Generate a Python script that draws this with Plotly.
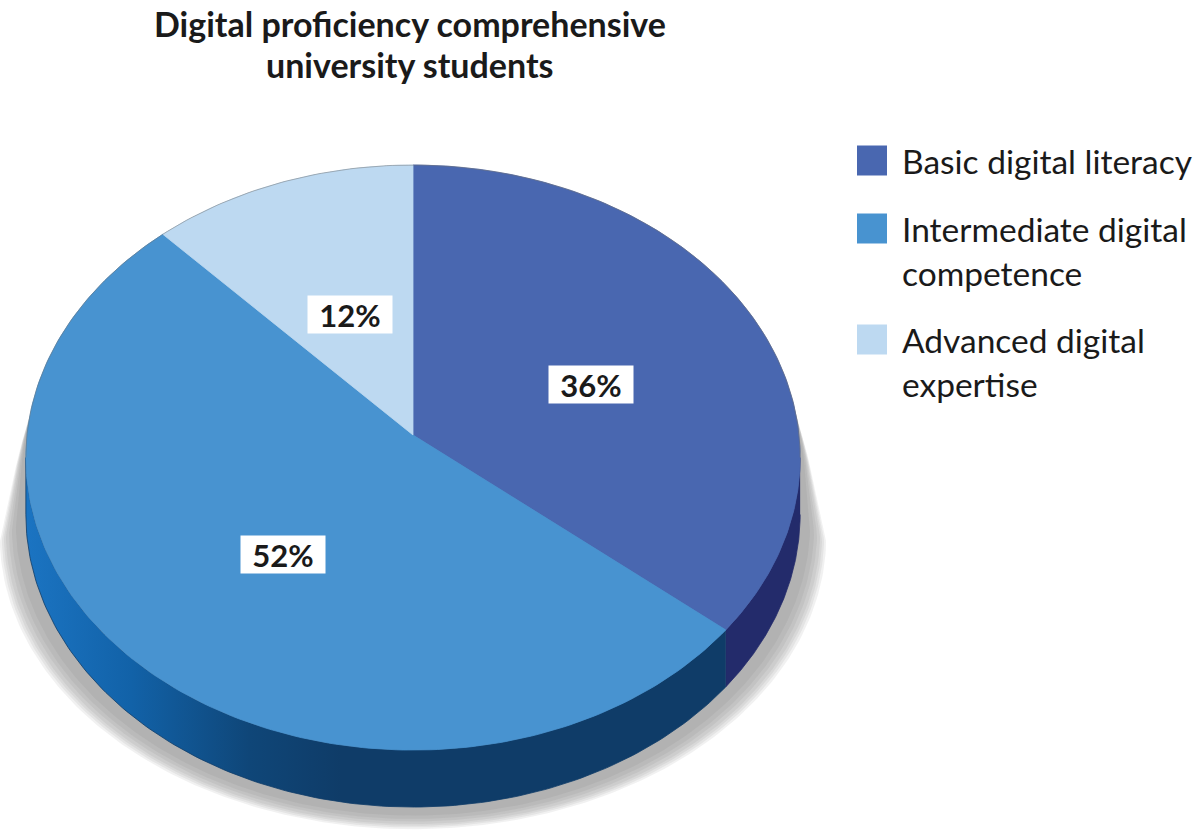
import numpy as np
import plotly.graph_objects as go

# chart data
categories = ["Basic digital literacy", "Intermediate digital<br>competence", "Advanced digital<br>expertise"]
shares = [36, 52, 12]
pct_labels = ["36%", "52%", "12%"]
title = "Digital proficiency comprehensive<br>university students"

# colours
top_colors = ["#4967B0", "#4893D0", "#BDD9F1"]
side_colors = ["#232B6B", "#0F3C68", "#9DBFDF"]
# the big front side gets lighter towards the left edge
side_gradient = [[0, "#1B74C2"], [0.15, "#1262A8"], [0.32, "#0F4678"], [0.45, "#0F3C68"], [1, "#0F3C68"]]
FONT = "Lato"

W, H = 1200, 835
CX, CY = 413, 435      # pie centre on screen (px)
RX, RY = 386, 290.8    # radii of the top face
PERSP = 0.077          # near edge a bit bigger than the far one
DEPTH = 57             # thickness of the disc


def proj(t, r=1.0):
    # t = 0 at 12 o'clock, clockwise
    u = r * np.sin(t)
    v = -r * np.cos(t)
    s = 1 / (1 - PERSP * v)
    return CX + RX * u * s, CY + RY * v * s


fig = go.Figure()

frac = np.array(shares) / sum(shares)
edges = np.concatenate([[0], np.cumsum(frac)]) * 2 * np.pi
t_right = np.arccos(-PERSP)
t_left = 2 * np.pi - t_right

# outline of the whole disc, used for the soft shadow
bx, by = proj(np.linspace(t_left - 2 * np.pi, t_right, 200))
fx, fy = proj(np.linspace(t_right, t_left, 200))
sil_x = np.concatenate([bx, fx])
sil_y = np.concatenate([by, fy + DEPTH])
w = np.clip((sil_y - 420) / 100, 0, 1)
for ex in [26, 24, 22, 20, 17, 14, 10]:
    fig.add_trace(go.Scatter(
        x=CX + (sil_x - CX) * (1 + ex * w / RX), y=sil_y + 0.85 * ex * w,
        mode="lines", fill="toself", fillcolor="rgba(100,100,100,0.09)",
        line=dict(width=0), hoverinfo="skip", showlegend=False))

# visible sides
for i in range(len(shares)):
    a0, a1 = max(edges[i], t_right), min(edges[i + 1], t_left)
    if a1 <= a0:
        continue
    x, y = proj(np.linspace(a0, a1, 150))
    px = np.concatenate([x, x[::-1]])
    py = np.concatenate([y, y[::-1] + DEPTH])
    kw = dict(fillcolor=side_colors[i])
    if i == 1:
        kw = dict(fillgradient=dict(type="horizontal", colorscale=side_gradient,
                                    start=float(px.min()), stop=float(px.max())))
    fig.add_trace(go.Scatter(x=px, y=py, mode="lines", fill="toself",
                             line=dict(width=0.8, color=side_colors[i]),
                             hoverinfo="skip", showlegend=False, **kw))

# top faces
for i in range(len(shares)):
    x, y = proj(np.linspace(edges[i], edges[i + 1], 200))
    fig.add_trace(go.Scatter(
        x=np.concatenate([[CX], x, [CX]]), y=np.concatenate([[CY], y, [CY]]),
        mode="lines", fill="toself", fillcolor=top_colors[i],
        line=dict(width=0.8, color=top_colors[i]),
        hoverinfo="skip", showlegend=False))

# faint rim along the back edge
fig.add_trace(go.Scatter(x=bx, y=by, mode="lines",
                         line=dict(width=1, color="rgba(110,110,110,0.45)"),
                         hoverinfo="skip", showlegend=False))

# percentage labels
for i, lab in enumerate(pct_labels):
    lx, ly = proj((edges[i] + edges[i + 1]) / 2, 0.5)
    fig.add_annotation(x=lx + 6, y=ly + 10, text=f"<b>{lab}</b>", showarrow=False,
                       bgcolor="white", width=84, height=37, borderpad=0,
                       font=dict(family=FONT, size=31, color="#1A1A1A"))

# legend drawn by hand (large squares)
ly = 160.5
for i, name in enumerate(categories):
    fig.add_shape(type="rect", x0=857, x1=887, y0=ly - 15, y1=ly + 15,
                  fillcolor=top_colors[i], line=dict(width=0))
    fig.add_annotation(x=900, y=ly - 22, xanchor="left", yanchor="top", align="left",
                       text=name, showarrow=False,
                       font=dict(family=FONT, size=33.5, color="#1A1A1A"))
    ly += (name.count("<br>")) * 43 + 68

# title, two lines set a little tighter than the default line height
for k, line in enumerate(title.split("<br>")):
    fig.add_annotation(x=410, y=1 + 41 * k, xanchor="center", yanchor="top",
                       text=f"<b>{line}</b>", showarrow=False,
                       font=dict(family=FONT, size=34, color="#1A1A1A"))

fig.update_layout(
    width=W, height=H, margin=dict(l=0, r=0, t=0, b=0),
    paper_bgcolor="white", plot_bgcolor="white", showlegend=False,
    xaxis=dict(range=[0, W], visible=False, fixedrange=True),
    yaxis=dict(range=[H, 0], visible=False, fixedrange=True),
)

fig.write_html("out.html", config={"displayModeBar": False},
               post_script="document.body.style.margin = '0';")
